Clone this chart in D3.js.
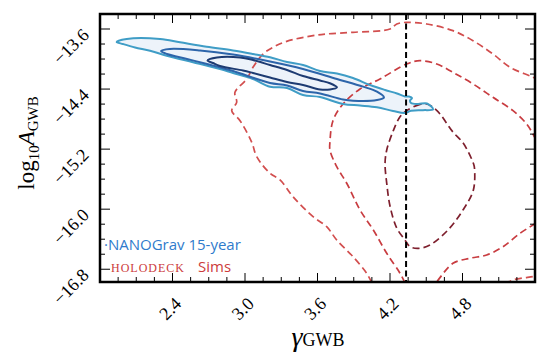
<!DOCTYPE html>
<html><head><meta charset="utf-8">
<script src="https://cdn.jsdelivr.net/npm/d3@7"></script>
<style>body{margin:0;background:#fff}</style>
</head><body><svg id="c" width="549" height="364"></svg>
<script>
// ---- data (gamma_GWB, log10 A_GWB) ----
const xDomain = [1.8, 5.4];
const yDomain = [-16.97, -13.4];
const xMajorTicks = [2.4, 3.0, 3.6, 4.2, 4.8];
const yMajorTicks = [-13.6, -14.4, -15.2, -16.0, -16.8];
const gammaRef = 4.333;

// NANOGrav 15-year posterior contours (closed)
const nanoOuter = [[1.938,-13.773],[2.021,-13.733],[2.297,-13.733],[2.462,-13.777],[2.683,-13.836],[2.901,-13.886],[3.066,-13.933],[3.207,-13.977],[3.348,-14.039],[3.480,-14.079],[3.621,-14.159],[3.761,-14.193],[3.894,-14.253],[4.035,-14.346],[4.159,-14.412],[4.258,-14.459],[4.324,-14.499],[4.357,-14.499],[4.382,-14.519],[4.366,-14.552],[4.374,-14.586],[4.432,-14.599],[4.506,-14.592],[4.556,-14.670],[4.473,-14.681],[4.374,-14.688],[4.324,-14.719],[4.225,-14.692],[4.092,-14.643],[3.952,-14.619],[3.811,-14.599],[3.621,-14.506],[3.480,-14.479],[3.348,-14.386],[3.207,-14.368],[3.066,-14.266],[2.901,-14.186],[2.793,-14.133],[2.570,-14.043],[2.352,-13.955],[2.214,-13.889],[2.090,-13.846],[1.990,-13.800]];
const nanoMid = [[2.305,-13.893],[2.379,-13.866],[2.628,-13.886],[2.901,-13.940],[3.207,-14.033],[3.480,-14.133],[3.761,-14.266],[3.977,-14.368],[4.092,-14.435],[4.150,-14.512],[4.092,-14.546],[3.894,-14.555],[3.811,-14.539],[3.621,-14.459],[3.480,-14.426],[3.348,-14.352],[3.207,-14.319],[3.041,-14.235],[2.901,-14.159],[2.686,-14.066],[2.520,-13.999],[2.354,-13.933]];
const nanoInner = [[2.690,-14.019],[2.768,-13.979],[2.959,-13.979],[3.066,-14.013],[3.207,-14.079],[3.348,-14.146],[3.480,-14.226],[3.621,-14.286],[3.703,-14.323],[3.761,-14.379],[3.703,-14.406],[3.621,-14.406],[3.480,-14.346],[3.348,-14.306],[3.207,-14.246],[3.066,-14.186],[2.983,-14.153],[2.793,-14.093],[2.735,-14.053]];

// holodeck simulation contours (open paths clipped by the frame, and closed inner)
const holoOuterA = [[4.049,-16.977],[4.007,-16.854],[3.894,-16.633],[3.759,-16.411],[3.676,-16.233],[3.563,-16.100],[3.397,-15.834],[3.290,-15.611],[3.207,-15.522],[3.097,-15.301],[3.056,-15.109],[2.959,-14.821],[2.890,-14.688],[2.931,-14.576],[2.917,-14.443],[3.014,-14.266],[3.066,-14.110],[3.149,-13.933],[3.232,-13.844],[3.345,-13.764],[3.563,-13.689],[3.676,-13.666],[3.894,-13.644],[4.200,-13.600],[4.256,-13.533],[4.338,-13.511],[4.504,-13.533],[4.721,-13.622],[4.887,-13.756],[5.052,-13.933],[5.193,-14.110],[5.383,-14.243],[5.483,-14.332]];
const holoOuterB = [[5.152,-16.997],[5.218,-16.943],[5.383,-16.899],[5.483,-16.877]];
const holoMidA = [[4.324,-16.983],[4.283,-16.854],[4.173,-16.588],[4.062,-16.277],[3.952,-16.011],[3.842,-15.655],[3.759,-15.434],[3.703,-15.212],[3.703,-15.105],[3.728,-14.821],[3.811,-14.599],[3.952,-14.399],[4.117,-14.266],[4.338,-14.066],[4.448,-14.022],[4.587,-14.066],[4.721,-14.177],[4.887,-14.332],[5.052,-14.510],[5.218,-14.688],[5.331,-14.865],[5.383,-14.999],[5.441,-15.185]];
const holoMidB = [[5.483,-16.117],[5.383,-16.211],[5.276,-16.321],[5.135,-16.500],[5.000,-16.610],[4.862,-16.654],[4.721,-16.721],[4.587,-16.966],[4.548,-17.037]];
const holoInner = [[4.504,-14.599],[4.448,-14.603],[4.338,-14.688],[4.283,-14.768],[4.227,-14.955],[4.173,-15.212],[4.159,-15.389],[4.173,-15.655],[4.200,-15.958],[4.256,-16.251],[4.324,-16.411],[4.366,-16.500],[4.440,-16.521],[4.531,-16.477],[4.680,-16.277],[4.804,-16.011],[4.890,-15.744],[4.899,-15.451],[4.890,-15.389],[4.807,-15.122],[4.721,-14.972],[4.669,-14.856],[4.614,-14.732],[4.556,-14.643]];

const legendLabels = ["NANOGrav 15-year", "HOLODECK", "Sims"];

// ---- layout ----
const L = 100, R = 535, T = 14, B = 282;
const svg = d3.select("#c");
const x = d3.scaleLinear().domain(xDomain).range([L, R]);
const y = d3.scaleLinear().domain(yDomain).range([B, T]);

const defs = svg.append("defs");
defs.append("clipPath").attr("id","clip")
  .append("rect").attr("x",L).attr("y",T).attr("width",R-L).attr("height",B-T);
const plot = svg.append("g").attr("clip-path","url(#clip)");

const closed = d3.line().x(d=>x(d[0])).y(d=>y(d[1])).curve(d3.curveCatmullRomClosed.alpha(0.5));
const open = d3.line().x(d=>x(d[0])).y(d=>y(d[1])).curve(d3.curveCatmullRom.alpha(0.5));

plot.append("path").attr("d", closed(nanoOuter)).attr("fill","#edf3fa").attr("stroke","none");

const redStyle = (p, c) => p.attr("fill","none").attr("stroke",c).attr("stroke-width",1.7).attr("stroke-dasharray","7,4");
redStyle(plot.append("path").attr("d", open(holoOuterA)), "#d24e4e");
redStyle(plot.append("path").attr("d", open(holoOuterB)), "#d24e4e");
redStyle(plot.append("path").attr("d", open(holoMidA)), "#c83c40");
redStyle(plot.append("path").attr("d", open(holoMidB)), "#c83c40");
redStyle(plot.append("path").attr("d", closed(holoInner)), "#7e1f2d");

plot.append("path").attr("d", closed(nanoOuter)).attr("fill","none").attr("stroke","#3f9dc6").attr("stroke-width",2);
plot.append("path").attr("d", closed(nanoMid)).attr("fill","none").attr("stroke","#2d65aa").attr("stroke-width",2);
plot.append("path").attr("d", closed(nanoInner)).attr("fill","none").attr("stroke","#1d3b72").attr("stroke-width",2);

plot.append("line").attr("x1",x(gammaRef)).attr("x2",x(gammaRef)).attr("y1",T).attr("y2",B)
  .attr("stroke","#000").attr("stroke-width",2).attr("stroke-dasharray","6,3.5");

// ---- ticks ----
const xMinor = d3.range(1.8, 5.41, 0.15).filter(v => !xMajorTicks.some(m => Math.abs(m-v)<1e-6));
const yMinor = d3.range(-16.8, -13.39, 0.2).filter(v => !yMajorTicks.some(m => Math.abs(m-v)<1e-6));
const fmt = d3.format(".1f");
const tk = svg.append("g").attr("stroke","#000").attr("stroke-width",1);
[[xMinor,5],[xMajorTicks,9]].forEach(([vals,len]) => {
  tk.append("g").selectAll("line").data(vals).join("line")
    .attr("x1",d=>x(d)).attr("x2",d=>x(d)).attr("y1",B).attr("y2",B-len);
  tk.append("g").selectAll("line").data(vals).join("line")
    .attr("x1",d=>x(d)).attr("x2",d=>x(d)).attr("y1",T).attr("y2",T+len);
});
[[yMinor,5],[yMajorTicks,10]].forEach(([vals,len]) => {
  tk.append("g").selectAll("line").data(vals).join("line")
    .attr("y1",d=>y(d)).attr("y2",d=>y(d)).attr("x1",L).attr("x2",L+len);
  tk.append("g").selectAll("line").data(vals).join("line")
    .attr("y1",d=>y(d)).attr("y2",d=>y(d)).attr("x1",R).attr("x2",R-len);
});

// tick labels along 45-degree paths
function diagLabel(id, ax, ay, txt){
  const len = 80;
  defs.append("path").attr("id", id)
    .attr("d", `M${ax - len*0.7071},${ay + len*0.7071}L${ax},${ay}`);
  svg.append("text").attr("font-family","Liberation Serif").attr("font-size",18).attr("fill","#000")
    .append("textPath").attr("href", "#"+id).attr("startOffset","100%").attr("text-anchor","end").text(txt);
}
xMajorTicks.forEach((d,i) => diagLabel("xl"+i, x(d)+10, B+23, fmt(d)));
yMajorTicks.forEach((d,i) => diagLabel("yl"+i, L-10, y(d)+7, fmt(d)));

// frame
svg.append("rect").attr("x",L).attr("y",T).attr("width",R-L).attr("height",B-T)
  .attr("fill","none").attr("stroke","#000").attr("stroke-width",2.5);

// axis labels
const yl = svg.append("text").attr("transform","translate(34,143) rotate(-90)")
  .attr("text-anchor","middle").attr("font-family","Liberation Serif").attr("fill","#000");
yl.append("tspan").attr("font-size",23).text("log");
yl.append("tspan").attr("font-size",15).attr("dy",5).text("10");
yl.append("tspan").attr("font-size",23).attr("font-style","italic").attr("dy",-5).text("A");
yl.append("tspan").attr("font-size",15).attr("dy",4).text("GWB");

const xl = svg.append("text").attr("x",318).attr("y",346)
  .attr("text-anchor","middle").attr("font-family","Liberation Serif").attr("fill","#000");
xl.append("tspan").attr("font-size",28).attr("font-style","italic").text("γ");
xl.append("tspan").attr("font-size",18).text("GWB");

// legend
svg.append("text").attr("x",104).attr("y",250).attr("font-family","Open Sans").attr("font-size",15)
  .attr("fill","#2f7bcc").text("·" + legendLabels[0]);
svg.append("text").attr("x",111).attr("y",272).attr("font-family","Liberation Serif").attr("font-size",12)
  .attr("letter-spacing",1).attr("fill","#cc3b3b").text(legendLabels[1]);
svg.append("text").attr("x",198).attr("y",272).attr("font-family","Open Sans").attr("font-size",15)
  .attr("fill","#cc3b3b").text(legendLabels[2]);
</script></body></html>
